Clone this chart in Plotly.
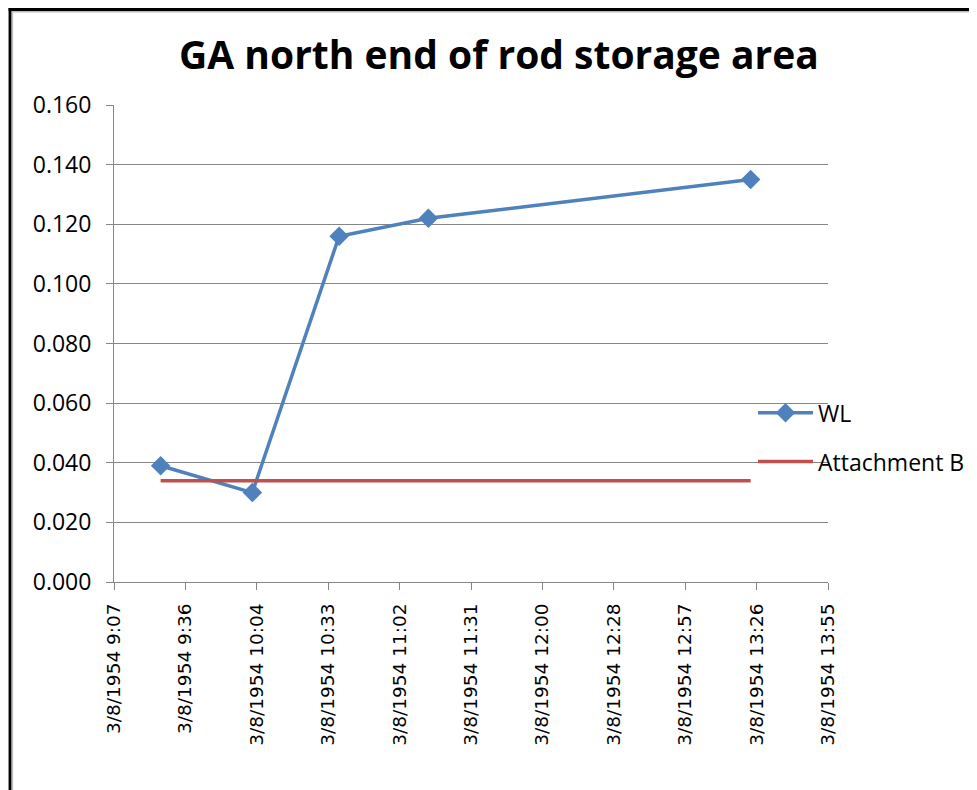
import plotly.graph_objects as go

# Data
wl_times = ["1954-03-08 09:26", "1954-03-08 10:03", "1954-03-08 10:38",
            "1954-03-08 11:14", "1954-03-08 13:24"]
wl_values = [0.039, 0.030, 0.116, 0.122, 0.135]
att_times = ["1954-03-08 09:26", "1954-03-08 13:24"]
att_values = [0.034, 0.034]

tick_vals = ["1954-03-08 09:07:12", "1954-03-08 09:36:00", "1954-03-08 10:04:48",
             "1954-03-08 10:33:36", "1954-03-08 11:02:24", "1954-03-08 11:31:12",
             "1954-03-08 12:00:00", "1954-03-08 12:28:48", "1954-03-08 12:57:36",
             "1954-03-08 13:26:24", "1954-03-08 13:55:12"]
tick_text = ["3/8/1954 9:07", "3/8/1954 9:36", "3/8/1954 10:04", "3/8/1954 10:33",
             "3/8/1954 11:02", "3/8/1954 11:31", "3/8/1954 12:00", "3/8/1954 12:28",
             "3/8/1954 12:57", "3/8/1954 13:26", "3/8/1954 13:55"]
y_ticks = [0.0, 0.02, 0.04, 0.06, 0.08, 0.10, 0.12, 0.14, 0.16]
y_text = ["0.000", "0.020", "0.040", "0.060", "0.080", "0.100", "0.120", "0.140", "0.160"]

FONT = "Open Sans"

fig = go.Figure()
fig.add_trace(go.Scatter(
    x=wl_times, y=wl_values, name="WL", mode="lines+markers",
    line=dict(color="#4F81BD", width=3.5),
    marker=dict(symbol="diamond", size=15, color="#4F81BD"),
    legendgroup="a",
))
fig.add_trace(go.Scatter(
    x=att_times, y=att_values, name="Attachment B", mode="lines",
    line=dict(color="#C0504D", width=3.5),
    legendgroup="b",
))

# plot area (in figure px): left 105.5, right 820, top 97, bottom 574
PW = 714.5
PH = 477.0

fig.update_layout(
    width=977, height=790,
    margin=dict(l=105.5, r=157, t=97, b=216, autoexpand=False),
    paper_bgcolor="white", plot_bgcolor="white",
    font=dict(family=FONT, size=17, color="#000000"),
    title=dict(text="<b>GA north end of rod storage area</b>",
               x=491 / 977, xanchor="center", xref="container",
               y=(790 - 47) / 790, yanchor="middle", yref="container",
               font=dict(family=FONT, size=39, color="#000000")),
    showlegend=True,
    legend=dict(x=0.895, xanchor="left", y=0.40, yanchor="top",
                font=dict(family=FONT, size=23),
                itemwidth=55,
                tracegroupgap=16, traceorder="grouped",
                bgcolor="rgba(0,0,0,0)"),
    xaxis=dict(
        type="date",
        range=[tick_vals[0], tick_vals[-1]],
        tickmode="array", tickvals=tick_vals, ticktext=tick_text,
        tickangle=-90, showgrid=False,
        showline=True, linecolor="#868686", linewidth=1,
        ticks="outside", ticklen=7, tickcolor="#868686",
        tickfont=dict(family="DejaVu Sans", size=18.5),
        ticklabelstandoff=6,
        zeroline=False,
    ),
    yaxis=dict(
        range=[0, 0.16],
        tickmode="array", tickvals=y_ticks, ticktext=y_text,
        showgrid=True, gridcolor="#868686", gridwidth=1,
        showline=True, linecolor="#868686", linewidth=1,
        ticks="outside", ticklen=7, tickcolor="#868686",
        tickfont=dict(family=FONT, size=23),
        ticklabelstandoff=10,
        zeroline=False,
    ),
    shapes=[
        # outer frame (left and top edges)
        dict(type="line", xref="paper", yref="paper",
             x0=(1.5 - 105.5) / PW, x1=(1.5 - 105.5) / PW,
             y0=-0.5, y1=(574 - 0) / PH,
             line=dict(color="black", width=3)),
        dict(type="line", xref="paper", yref="paper",
             x0=(0 - 105.5) / PW, x1=1.25, y0=(574 - 1.5) / PH, y1=(574 - 1.5) / PH,
             line=dict(color="black", width=3)),
        dict(type="line", xref="paper", yref="paper",
             x0=(3.8 - 105.5) / PW, x1=(3.8 - 105.5) / PW,
             y0=-0.5, y1=(574 - 3.8) / PH,
             line=dict(color="#BBBBBB", width=1.5)),
        dict(type="line", xref="paper", yref="paper",
             x0=(3.8 - 105.5) / PW, x1=1.25, y0=(574 - 3.8) / PH, y1=(574 - 3.8) / PH,
             line=dict(color="#BBBBBB", width=1.5)),
    ],
)

fig.write_html("out.html")
